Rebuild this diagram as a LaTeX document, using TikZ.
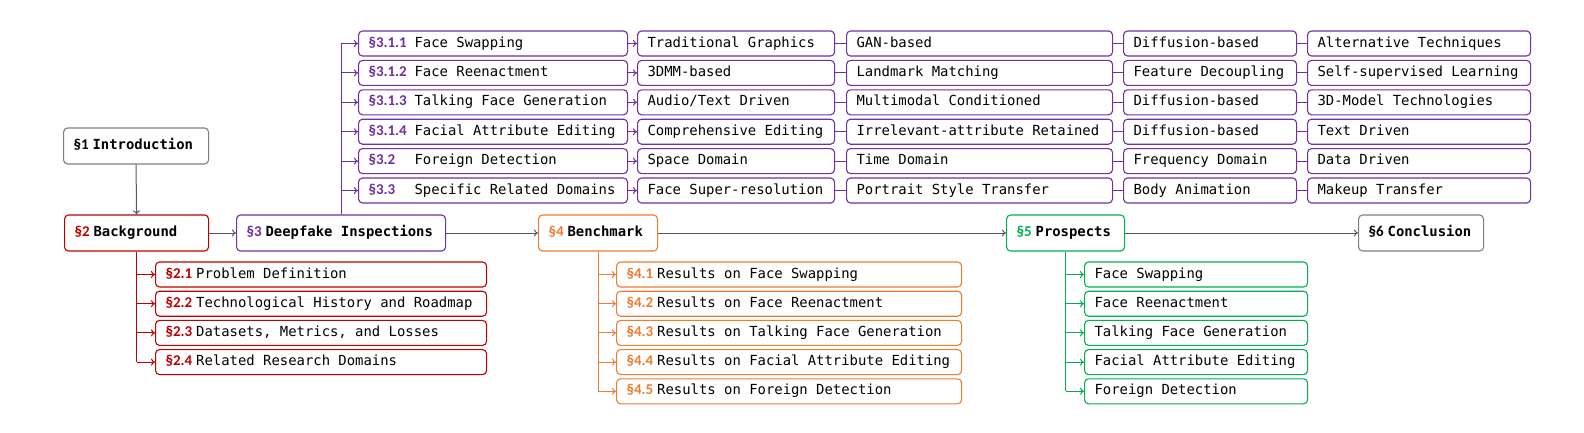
\documentclass[tikz,border=0pt]{standalone}
\usepackage{fontspec}
\setmonofont{DejaVu Sans Mono}
\newfontfamily\secf{Carlito}
\usetikzlibrary{arrows.meta}
\definecolor{cred}{HTML}{C00000}
\definecolor{cpur}{HTML}{7030A0}
\definecolor{corg}{HTML}{ED7D31}
\definecolor{cgrn}{HTML}{00B050}
\definecolor{cgry}{HTML}{7F7F7F}
\definecolor{carr}{HTML}{595959}
\newcommand{\mtext}{\ttfamily\fontsize{13.9}{16}\selectfont}
\newcommand{\sn}[2]{{\secf\bfseries\fontsize{15}{16}\selectfont\color{#1}#2}\hspace{4pt}}
\newcommand{\snw}[2]{\makebox[42pt][l]{\secf\bfseries\fontsize{15}{16}\selectfont\color{#1}#2}\hspace{4pt}}
\newcommand{\bt}[2]{\makebox[#1pt][l]{#2}}
\tikzset{
  bx/.style={draw, rounded corners=4pt, line width=1.1pt, inner xsep=10pt, inner ysep=0pt,
    minimum height=25pt, text height=10pt, text depth=3pt, anchor=west, font=\mtext, fill=white},
  mainbx/.style={bx, minimum height=36pt, font=\mtext\bfseries},
  garr/.style={draw=carr, line width=1pt, -{To[length=4pt,width=7pt]}},
  carrow/.style={draw=#1, line width=1pt, -{To[length=4pt,width=7pt]}},
  cline/.style={draw=#1, line width=1pt},
}
\begin{document}
\begin{tikzpicture}[x=1pt,y=-1pt]
\useasboundingbox (0,0) rectangle (1584,432);
% main row
\node[mainbx, draw=cgry] (intro) at (63,146) {\bt{125}{\sn{black}{§1}Introduction}};
\node[mainbx, draw=cred] (bg) at (64,233) {\bt{124}{\sn{cred}{§2}Background}};
\node[mainbx, draw=cpur] (df) at (236,233) {\bt{189}{\sn{cpur}{§3}Deepfake Inspections}};
\node[mainbx, draw=corg] (bm) at (538,233) {\bt{99}{\sn{corg}{§4}Benchmark}};
\node[mainbx, draw=cgrn] (pr) at (1006,233) {\bt{98}{\sn{cgrn}{§5}Prospects}};
\node[mainbx, draw=cgry] (cc) at (1358,233) {\bt{105}{\sn{black}{§6}Conclusion}};
\draw[garr] (intro.south) -- (bg.north);
\draw[garr] (bg.east) -- (df.west);
\draw[garr] (df.east) -- (bm.west);
\draw[garr] (bm.east) -- (pr.west);
\draw[garr] (pr.east) -- (cc.west);
% top grid
\begin{scope}[every node/.style={bx, draw=cpur}]
\node (a1) at (358,43.5) {\bt{249}{\snw{cpur}{§3.1.1}Face Swapping}};
\node (a2) at (358,72.9) {\bt{249}{\snw{cpur}{§3.1.2}Face Reenactment}};
\node (a3) at (358,102.3) {\bt{249}{\snw{cpur}{§3.1.3}Talking Face Generation}};
\node (a4) at (358,131.7) {\bt{249}{\snw{cpur}{§3.1.4}Facial Attribute Editing}};
\node (a5) at (358,161.1) {\bt{249}{\snw{cpur}{§3.2}Foreign Detection}};
\node (a6) at (358,190.5) {\bt{249}{\snw{cpur}{§3.3}Specific Related Domains}};
\node (b1) at (637,43.5) {\bt{177}{Traditional Graphics}};
\node (b2) at (637,72.9) {\bt{177}{3DMM-based}};
\node (b3) at (637,102.3) {\bt{177}{Audio/Text Driven}};
\node (b4) at (637,131.7) {\bt{177}{Comprehensive Editing}};
\node (b5) at (637,161.1) {\bt{177}{Space Domain}};
\node (b6) at (637,190.5) {\bt{177}{Face Super-resolution}};
\node (c1) at (846,43.5) {\bt{246}{GAN-based}};
\node (c2) at (846,72.9) {\bt{246}{Landmark Matching}};
\node (c3) at (846,102.3) {\bt{246}{Multimodal Conditioned}};
\node (c4) at (846,131.7) {\bt{246}{Irrelevant-attribute Retained}};
\node (c5) at (846,161.1) {\bt{246}{Time Domain}};
\node (c6) at (846,190.5) {\bt{246}{Portrait Style Transfer}};
\node (d1) at (1123,43.5) {\bt{153}{Diffusion-based}};
\node (d2) at (1123,72.9) {\bt{153}{Feature Decoupling}};
\node (d3) at (1123,102.3) {\bt{153}{Diffusion-based}};
\node (d4) at (1123,131.7) {\bt{153}{Diffusion-based}};
\node (d5) at (1123,161.1) {\bt{153}{Frequency Domain}};
\node (d6) at (1123,190.5) {\bt{153}{Body Animation}};
\node (e1) at (1307,43.5) {\bt{203}{Alternative Techniques}};
\node (e2) at (1307,72.9) {\bt{203}{Self-supervised Learning}};
\node (e3) at (1307,102.3) {\bt{203}{3D-Model Technologies}};
\node (e4) at (1307,131.7) {\bt{203}{Text Driven}};
\node (e5) at (1307,161.1) {\bt{203}{Data Driven}};
\node (e6) at (1307,190.5) {\bt{203}{Makeup Transfer}};
\end{scope}
\draw[cline=cpur] (df.north) -- (df.north |- a1.west);
\foreach \i in {1,...,6}{
  \draw[carrow=cpur] (df.north |- a\i.west) -- (a\i.west);
  \draw[carrow=cpur] (a\i.east) -- (b\i.west);
  \draw[cline=cpur] (b\i.east) -- (c\i.west);
  \draw[cline=cpur] (c\i.east) -- (d\i.west);
  \draw[cline=cpur] (d\i.east) -- (e\i.west);
}
% background subs
\begin{scope}[every node/.style={bx, draw=cred}]
\node (s1) at (155,274.5) {\bt{311}{\sn{cred}{§2.1}Problem Definition}};
\node (s2) at (155,303.7) {\bt{311}{\sn{cred}{§2.2}Technological History and Roadmap}};
\node (s3) at (155,332.9) {\bt{311}{\sn{cred}{§2.3}Datasets, Metrics, and Losses}};
\node (s4) at (155,362.1) {\bt{311}{\sn{cred}{§2.4}Related Research Domains}};
\end{scope}
\draw[cline=cred] (bg.south) -- (bg.south |- s4.west);
\foreach \i in {1,...,4}{\draw[carrow=cred] (bg.south |- s\i.west) -- (s\i.west);}
% benchmark subs
\begin{scope}[every node/.style={bx, draw=corg}]
\node (m1) at (616,274.5) {\bt{325}{\sn{corg}{§4.1}Results on Face Swapping}};
\node (m2) at (616,303.7) {\bt{325}{\sn{corg}{§4.2}Results on Face Reenactment}};
\node (m3) at (616,332.9) {\bt{325}{\sn{corg}{§4.3}Results on Talking Face Generation}};
\node (m4) at (616,362.1) {\bt{325}{\sn{corg}{§4.4}Results on Facial Attribute Editing}};
\node (m5) at (616,391.3) {\bt{325}{\sn{corg}{§4.5}Results on Foreign Detection}};
\end{scope}
\draw[cline=corg] (bm.south) -- (bm.south |- m5.west);
\foreach \i in {1,...,5}{\draw[carrow=corg] (bm.south |- m\i.west) -- (m\i.west);}
% prospects subs
\begin{scope}[every node/.style={bx, draw=cgrn}]
\node (p1) at (1084,274.5) {\bt{203}{Face Swapping}};
\node (p2) at (1084,303.7) {\bt{203}{Face Reenactment}};
\node (p3) at (1084,332.9) {\bt{203}{Talking Face Generation}};
\node (p4) at (1084,362.1) {\bt{203}{Facial Attribute Editing}};
\node (p5) at (1084,391.3) {\bt{203}{Foreign Detection}};
\end{scope}
\draw[cline=cgrn] (pr.south) -- (pr.south |- p5.west);
\foreach \i in {1,...,5}{\draw[carrow=cgrn] (pr.south |- p\i.west) -- (p\i.west);}
\end{tikzpicture}
\end{document}
